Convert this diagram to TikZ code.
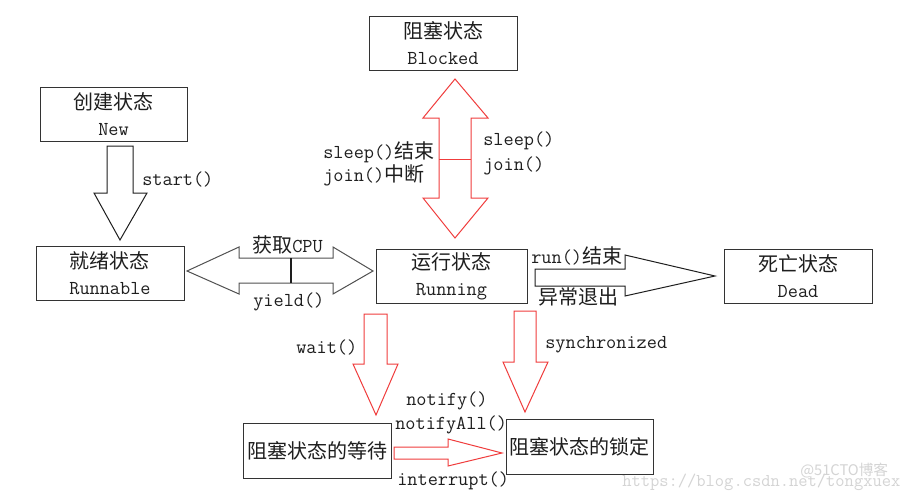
\documentclass[tikz,border=0pt]{standalone}
\usepackage{fontspec}
\newfontfamily\cjk{Noto Sans CJK SC}
\definecolor{ink}{HTML}{1E1E1E}
\definecolor{boxline}{HTML}{333333}
\definecolor{redarrow}{HTML}{F03C3C}
\definecolor{grayarrow}{HTML}{505050}
\definecolor{wm}{HTML}{D4D4D4}
\newcommand{\zh}[1]{{\cjk\fontsize{15}{19.5}\selectfont #1}}
\begin{document}
\begin{tikzpicture}[x=0.75pt,y=-0.75pt,
  statebox/.style={draw=boxline, line width=0.75pt, rectangle, inner sep=0pt,
    minimum height=40.5pt, align=center, text=ink,
    font=\ttfamily\fontsize{14.8}{19.5}\selectfont},
  lbl/.style={anchor=west, inner sep=0pt, text=ink, font=\ttfamily\fontsize{14.8}{16}\selectfont},
  redblock/.style={draw=redarrow, line width=0.75pt, fill=white, line join=miter},
  grayblock/.style={draw=grayarrow, line width=0.75pt, fill=white, line join=miter},
  blackblock/.style={draw=ink, line width=0.75pt, fill=white, line join=miter}]
\useasboundingbox (0,0) rectangle (908,493);
\fill[white] (0,0) rectangle (908,493);

% state boxes
\node[statebox, minimum width=111pt] (blocked) at (443,43.5) {\zh{阻塞状态}\\Blocked};
\node[statebox, minimum width=110.25pt] (new) at (113.5,114) {\zh{创建状态}\\New};
\node[statebox, minimum width=111pt] (runnable) at (110,273) {\zh{就绪状态}\\Runnable};
\node[statebox, minimum width=113.25pt] (running) at (451.5,276) {\zh{运行状态}\\Running};
\node[statebox, minimum width=111pt] (dead) at (798,276) {\zh{死亡状态}\\Dead};
\node[statebox, minimum width=111pt, minimum height=41.25pt] (waiting) at (317,450.5) {\zh{阻塞状态的等待}};
\node[statebox, minimum width=110.25pt, minimum height=41.25pt] (locked) at (579.5,446.5) {\zh{阻塞状态的锁定}};

% start() arrow: new -> runnable
\draw[blackblock] (107,146) -- (133,146) -- (133,193) -- (147,193) -- (120,240)
  -- (94,193) -- (107,193) -- cycle;
\node[lbl] (lstart) at (142,179) {start()};

% double arrow runnable <-> running
\draw[grayblock] (187,271) -- (239,247) -- (239,258) -- (333,258) -- (333,247)
  -- (373,271) -- (333,294) -- (333,283) -- (239,283) -- (239,294) -- cycle;
\draw[ink, line width=1.6pt] (291,258) -- (291,283);
\node[lbl] (lcpu) at (252,245) {\zh{获取}CPU};
\node[lbl] (lyield) at (253,302) {yield()};

% double arrow running <-> blocked
\draw[redblock] (455,79) -- (488,118) -- (471,118) -- (471,198) -- (488,198)
  -- (455,238) -- (423,198) -- (439,198) -- (439,118) -- (423,118) -- cycle;
\draw[redarrow, line width=0.75pt] (439,159) -- (471,159);
\node[lbl] (lsleepend) at (323,152) {sleep()\zh{结束}};
\node[lbl] (ljoinint) at (323,175) {join()\zh{中断}};
\node[lbl] (lsleep) at (483,141) {sleep()};
\node[lbl] (ljoin) at (483,166) {join()};

% running -> dead
\draw[blackblock] (535,269) -- (625,269) -- (625,255) -- (715,276) -- (625,296)
  -- (625,286) -- (535,286) -- cycle;
\node[lbl] (lrunend) at (531,256) {run()\zh{结束}};
\node[lbl] (lexc) at (538,297) {\zh{异常退出}};

% running -> waiting
\draw[redblock] (364,314) -- (387,314) -- (387,364) -- (398,364) -- (376,415)
  -- (353,364) -- (364,364) -- cycle;
\node[lbl] (lwait) at (296,347) {wait()};

% running -> locked
\draw[redblock] (514,311) -- (536,311) -- (536,362) -- (548,362) -- (525,412)
  -- (503,362) -- (514,362) -- cycle;
\node[lbl] (lsync) at (545,345) {synchronized};

% waiting -> locked
\draw[redblock] (394,447) -- (448,447) -- (448,439) -- (502,453) -- (448,466)
  -- (448,459) -- (394,459) -- cycle;
\node[lbl] (lnotify) at (406,401) {notify()};
\node[lbl] (lnotifyall) at (395,425) {notifyAll()};
\node[lbl] (linterrupt) at (397,481) {interrupt()};

% watermark
\node[anchor=west, inner sep=0pt, text=wm, font=\ttfamily\fontsize{13.5}{14}\selectfont] (wm1) at (622,482) {https://blog.csdn.net/tongxuex};
\node[anchor=west, inner sep=0pt, text=wm, font=\cjk\fontsize{11}{13}\selectfont] (wm2) at (800,471) {@51CTO博客};
\end{tikzpicture}
\end{document}
